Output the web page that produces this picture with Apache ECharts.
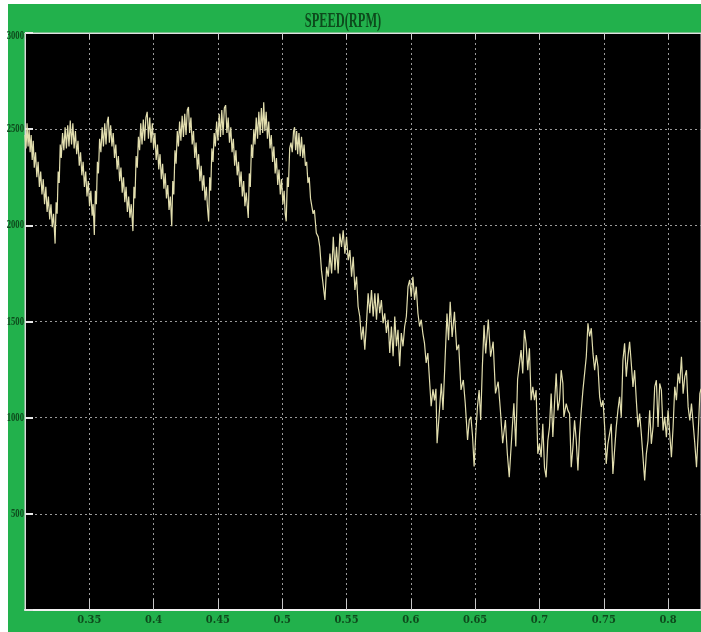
<!DOCTYPE html>
<html><head><meta charset="utf-8">
<script src="https://cdn.jsdelivr.net/npm/echarts@6/dist/echarts.min.js"></script>
<style>html,body{margin:0;padding:0;background:#fff;width:701px;height:632px;overflow:hidden}#c{position:absolute;left:0;top:0;width:701px;height:632px}</style>
</head><body><div id="c"></div><script>
// Chart title, axis ranges and tick labels
const chartTitle = 'SPEED(RPM)';
const xRange = [0.30, 0.8256];
const xStep = 0.05;
const yRange = [0, 3000];
const yStep = 500;
const yTickLabels = [500, 1000, 1500, 2000, 2500, 3000];

// Phase A: 0.30 - 0.533 s (ripple on saw-tooth near 2000-2600 rpm)
const timeA = [
0.3000,0.3008,0.3016,0.3024,0.3032,0.3040,0.3048,0.3056,0.3064,0.3072,0.3082,0.3092,0.3102,0.3112,0.3122,0.3132,0.3142,0.3152,0.3162,0.3172,0.3182,0.3192,0.3202,0.3212,0.3222,0.3234,
0.3242,0.3250,0.3258,0.3266,0.3274,0.3282,0.3292,0.3302,0.3312,0.3322,0.3332,0.3342,0.3352,0.3362,0.3372,0.3382,0.3392,0.3402,0.3412,0.3422,0.3432,0.3442,0.3452,0.3462,0.3472,0.3482,0.3492,0.3502,0.3512,0.3522,0.3530,0.3539,
0.3547,0.3555,0.3563,0.3571,0.3580,0.3590,0.3600,0.3610,0.3620,0.3630,0.3640,0.3648,0.3656,0.3666,0.3676,0.3686,0.3696,0.3706,0.3716,0.3726,0.3736,0.3746,0.3756,0.3766,0.3776,0.3786,0.3796,0.3806,0.3816,0.3826,0.3839,
0.3847,0.3855,0.3864,0.3873,0.3882,0.3891,0.3900,0.3910,0.3920,0.3930,0.3940,0.3950,0.3960,0.3970,0.3980,0.3990,0.4000,0.4010,0.4020,0.4030,0.4040,0.4050,0.4060,0.4070,0.4080,0.4090,0.4100,0.4110,0.4120,0.4130,0.4141,
0.4149,0.4157,0.4166,0.4175,0.4184,0.4193,0.4202,0.4212,0.4222,0.4232,0.4242,0.4252,0.4262,0.4271,0.4280,0.4290,0.4300,0.4310,0.4320,0.4330,0.4340,0.4350,0.4360,0.4370,0.4380,0.4390,0.4400,0.4410,0.4420,0.4428,
0.4436,0.4444,0.4453,0.4462,0.4471,0.4480,0.4490,0.4500,0.4510,0.4520,0.4530,0.4540,0.4550,0.4560,0.4570,0.4580,0.4590,0.4600,0.4610,0.4620,0.4630,0.4640,0.4650,0.4660,0.4670,0.4680,0.4690,0.4700,0.4710,0.4720,0.4736,
0.4744,0.4752,0.4761,0.4770,0.4779,0.4788,0.4798,0.4808,0.4818,0.4828,0.4838,0.4848,0.4856,0.4865,0.4875,0.4885,0.4895,0.4905,0.4915,0.4925,0.4935,0.4945,0.4955,0.4965,0.4975,0.4985,0.4995,0.5005,0.5015,0.5023,0.5031,
0.5040,0.5048,0.5058,0.5068,0.5078,0.5088,0.5096,0.5104,0.5112,0.5120,0.5130,0.5140,0.5150,0.5160,0.5170,0.5180,0.5190,0.5200,0.5210,0.5220,0.5229,0.5240,0.5250,0.5265,0.5280,0.5292,0.5305,0.5318,0.5332
];
const speedA = [
2470,2400,2530,2410,2500,2380,2470,2340,2440,2300,2380,2250,2330,2200,2280,2160,2240,2110,2200,2070,2150,2030,2110,1990,2060,1905,
2120,2060,2280,2220,2420,2350,2480,2390,2510,2400,2520,2410,2545,2420,2530,2400,2490,2370,2440,2310,2380,2260,2330,2200,2280,2150,2230,2100,2180,2050,2110,1950,
2180,2110,2330,2270,2450,2380,2510,2410,2530,2420,2540,2565,2430,2520,2410,2480,2350,2420,2290,2360,2230,2300,2170,2250,2120,2200,2070,2150,2040,2110,1970,
2200,2140,2360,2300,2460,2390,2530,2420,2550,2440,2560,2590,2450,2560,2430,2530,2400,2480,2340,2420,2290,2370,2240,2320,2190,2270,2140,2210,2080,2150,1995,
2230,2160,2390,2320,2490,2410,2540,2440,2570,2460,2580,2470,2600,2615,2480,2560,2420,2490,2350,2430,2290,2370,2230,2310,2180,2260,2130,2200,2080,2020,
2250,2180,2400,2330,2480,2410,2540,2440,2580,2460,2600,2470,2610,2625,2480,2560,2430,2510,2380,2450,2310,2390,2260,2330,2200,2280,2150,2230,2100,2170,2038,
2270,2200,2420,2350,2500,2420,2560,2450,2590,2470,2610,2480,2640,2490,2590,2450,2540,2400,2470,2330,2410,2270,2350,2210,2290,2160,2240,2110,2180,2060,2021,
2250,2200,2400,2430,2380,2490,2510,2390,2490,2370,2480,2360,2460,2350,2420,2310,2330,2220,2250,2140,2130,2060,2080,1960,1940,1888,1767,1770,1612
];

// Phase B: 0.533 - 0.683 s (speed drop and oscillation)
const timeB = [
0.5345,0.5358,0.5371,0.5384,0.5397,0.5410,0.5422,0.5435,0.5448,0.5461,0.5474,0.5487,0.5500,0.5513,0.5526,0.5539,0.5552,0.5565,0.5578,0.5590,
0.5603,0.5616,0.5629,0.5642,0.5655,0.5668,0.5681,0.5694,0.5707,0.5720,0.5733,0.5745,0.5758,0.5771,0.5784,0.5797,0.5810,0.5823,0.5836,0.5849,
0.5862,0.5875,0.5888,0.5900,0.5913,0.5926,0.5939,0.5952,0.5965,0.5978,0.5991,0.6003,0.6016,0.6029,0.6042,0.6055,0.6068,0.6081,0.6093,0.6106,
0.6119,0.6132,0.6145,0.6158,0.6172,0.6184,0.6195,0.6204,0.6219,0.6237,0.6250,0.6268,0.6281,0.6293,0.6306,0.6321,0.6339,0.6357,0.6372,0.6390,
0.6408,0.6423,0.6441,0.6454,0.6467,0.6480,0.6492,0.6505,0.6518,0.6531,0.6543,0.6556,0.6569,0.6582,0.6602,0.6620,0.6640,0.6658,0.6679,0.6696,
0.6714,0.6735,0.6750,0.6765,0.6786,0.6801,0.6816,0.6830
];
const speedB = [
1784,1733,1853,1750,1940,1767,1888,1750,1957,1888,1974,1853,1940,1819,1871,1733,1836,1664,1733,1578,
1526,1405,1474,1353,1491,1647,1543,1664,1526,1647,1509,1647,1543,1612,1491,1543,1440,1509,1336,1474,
1319,1526,1371,1457,1267,1440,1371,1474,1526,1681,1716,1629,1733,1612,1681,1543,1474,1509,1440,1388,
1285,1336,1198,1060,1147,1090,1150,867,1005,1178,1040,1334,1542,1403,1602,1420,1550,1351,1380,1144,
1196,1075,884,988,1005,901,746,919,1057,1144,988,1265,1481,1334,1510,1317,1395,1126,1187,1040,
867,988,815,690,919,1075,850,1200
];

// Phase C: 0.686 - 0.826 s (oscillation around 1000-1500 rpm)
const timeC = [
0.6857,0.6870,0.6883,0.6896,0.6909,0.6922,0.6935,0.6948,0.6961,0.6974,0.6987,0.7000,0.7013,0.7026,0.7039,0.7052,0.7065,0.7078,0.7091,0.7104,
0.7117,0.7130,0.7143,0.7156,0.7169,0.7182,0.7190,0.7208,0.7221,0.7234,0.7247,0.7260,0.7273,0.7286,0.7299,0.7312,0.7325,0.7338,0.7351,0.7364,
0.7377,0.7390,0.7403,0.7416,0.7429,0.7442,0.7455,0.7468,0.7481,0.7494,0.7507,0.7519,0.7532,0.7545,0.7558,0.7571,0.7584,0.7597,0.7610,0.7623,
0.7636,0.7649,0.7662,0.7675,0.7688,0.7701,0.7714,0.7727,0.7740,0.7753,0.7766,0.7779,0.7792,0.7805,0.7818,0.7831,0.7844,0.7857,0.7870,0.7883,
0.7896,0.7909,0.7922,0.7935,0.7948,0.7961,0.7974,0.7987,0.8000,0.8013,0.8026,0.8039,0.8052,0.8065,0.8078,0.8091,0.8104,0.8117,0.8130,0.8143,
0.8156,0.8169,0.8182,0.8195,0.8208,0.8221,0.8234,0.8247,0.8256
];
const speedC = [
1352,1230,1456,1386,1247,1361,1091,1160,1091,1143,812,864,794,968,742,690,881,951,1125,899,
1073,1230,1038,1091,1247,1178,1004,1073,1038,1021,742,847,986,881,725,916,1038,1143,1230,1317,
1491,1422,1465,1334,1247,1326,1265,1108,1056,1091,951,760,864,916,968,707,829,951,1038,1108,
1004,1300,1387,1213,1317,1395,1282,1160,1247,1091,951,1021,916,794,673,812,881,1038,864,951,
1160,1195,951,1178,1143,934,1004,899,1038,916,794,951,1160,1091,1230,1178,1317,1125,1213,1247,
1056,986,1073,968,864,742,916,1125,1150
];

const times = timeA.concat(timeB, timeC);
const speeds = speedA.concat(speedB, speedC);
const seriesData = times.map((t, i) => [t, speeds[i]]);

const labelColor = '#0e4a1c';
const labelFont = "'DejaVu Serif Condensed', 'Liberation Serif', serif";
const baseGraphic = [
  {type: 'rect', z: 0, shape: {x: 0, y: 0, width: 8, height: 632}, style: {fill: '#ffffff'}},
  {type: 'rect', z: 0, shape: {x: 0, y: 0, width: 701, height: 4}, style: {fill: '#ffffff'}},
  {type: 'text', x: 343, y: 22, scaleX: 0.62, scaleY: 1, z: 10,
   style: {text: chartTitle, fill: '#0d4a1c', font: "bold 20px 'Liberation Serif', serif", textAlign: 'center', textVerticalAlign: 'middle'}}
];
const chart = echarts.init(document.getElementById('c'), null, {renderer: 'canvas'});
chart.setOption({
  animation: false,
  backgroundColor: '#22b14c',
  graphic: baseGraphic,
  grid: {left: 25, right: 0, top: 33, bottom: 22, containLabel: false, outerBoundsMode: 'none', show: true, backgroundColor: '#000', borderColor: '#cfcfcf', borderWidth: 1},
  xAxis: [{
    type: 'value', min: xRange[0], max: xRange[1], interval: xStep, position: 'bottom',
    axisLine: {show: true, lineStyle: {color: '#f2f2f2', width: 2}},
    axisTick: {show: true, inside: true, length: 11, lineStyle: {color: '#c8c8c8', width: 1}},
    axisLabel: {show: true, showMinLabel: false, showMaxLabel: false, margin: 5, color: labelColor, fontSize: 11, fontWeight: 'bold', fontFamily: labelFont, formatter: v => String(+v.toFixed(2))},
    splitLine: {show: true, lineStyle: {color: '#9a9a9a', type: [2, 3], width: 1}}
  }, {
    type: 'value', min: xRange[0], max: xRange[1], interval: xStep, position: 'top',
    axisLine: {show: true, lineStyle: {color: '#e0e0e0', width: 1}},
    axisTick: {show: true, inside: true, length: 6, lineStyle: {color: '#d0d0d0'}},
    axisLabel: {show: false}, splitLine: {show: false}
  }],
  yAxis: {
    type: 'value', min: yRange[0], max: yRange[1], interval: yStep,
    axisLine: {show: true, lineStyle: {color: '#d8d8d8', width: 1}},
    axisTick: {show: true, inside: true, length: 8, lineStyle: {color: '#e8e8e8', width: 2}},
    axisLabel: {show: false},
    splitLine: {show: true, lineStyle: {color: '#9a9a9a', type: [2, 3], width: 1}}
  },
  series: [{
    type: 'line', xAxisIndex: 0, data: seriesData, showSymbol: false, symbol: 'none',
    lineStyle: {color: '#e2deae', width: 1.2}, clip: true
  }]
});
// Condensed y tick labels, placed via the y axis scale
const yLabelGraphic = yTickLabels.map(v => ({
  type: 'text', z: 10,
  x: 24, y: chart.convertToPixel({yAxisIndex: 0}, v) + (v === 3000 ? 3 : 0), scaleX: 0.72,
  style: {text: String(v), fill: labelColor, font: "bold 12px 'Liberation Serif', serif", textAlign: 'right', textVerticalAlign: 'middle'}
}));
chart.setOption({graphic: baseGraphic.concat(yLabelGraphic)});
</script></body></html>
